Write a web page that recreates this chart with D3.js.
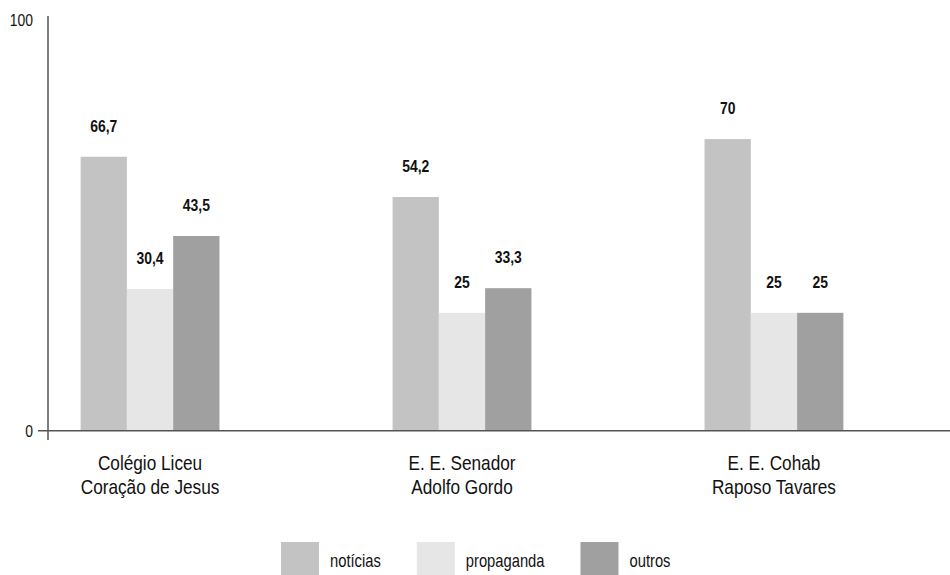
<!DOCTYPE html>
<html>
<head>
<meta charset="utf-8">
<script src="https://cdn.jsdelivr.net/npm/d3@7"></script>
<style>
  body { margin: 0; background: #fff; }
  text { font-family: "Liberation Sans", Arial, sans-serif; fill: #111; }
</style>
</head>
<body>
<div id="chart"></div>
<script>
var w = 950;
var h = 575;

// escolas (duas linhas cada)
var schools = [
    ["Colégio Liceu", "Coração de Jesus"],
    ["E. E. Senador", "Adolfo Gordo"],
    ["E. E. Cohab", "Raposo Tavares"]
];
var series = ["notícias", "propaganda", "outros"];
var colors = ["#c3c3c3", "#e6e6e6", "#a0a0a0"];

// rótulos impressos acima das barras
var noticiasLabels = ["66,7", "54,2", "70"];
var propagandaLabels = ["30,4", "25", "25"];
var outrosLabels = ["43,5", "33,3", "25"];

// altura das barras lida no eixo 0-100 da figura
var noticias = [66.7, 56.9, 71.0];
var propaganda = [34.5, 28.7, 28.7];
var outros = [47.4, 34.7, 28.7];

var yTicks = [0, 100];

var values = [noticias, propaganda, outros];
var labels = [noticiasLabels, propagandaLabels, outrosLabels];

// fonte estreita: não há Arial Narrow, então comprime na horizontal
var narrow = 0.82;
function squeeze(x, y) {
    return "translate(" + x + "," + y + ") scale(" + narrow + ",1)";
}

var svg = d3.select("#chart")
    .append("svg")
    .attr("width", w)
    .attr("height", h);

var x0 = d3.scaleBand()
    .domain(d3.range(schools.length))
    .range([51, 873])
    .paddingInner(0.555)
    .paddingOuter(0.095);

var x1 = d3.scaleBand()
    .domain(d3.range(series.length))
    .range([0, x0.bandwidth()]);

var y = d3.scaleLinear()
    .domain([0, 100])
    .range([430.7, 20]);

function cells(d, i) {
    return series.map(function (s, k) { return { k: k, v: values[k][i], label: labels[k][i] }; });
}

// barras
var groups = svg.selectAll("g.group")
    .data(schools)
    .enter()
    .append("g")
    .attr("class", "group")
    .attr("transform", function (d, i) {
        return "translate(" + x0(i) + ",0)";
    });

groups.selectAll("rect")
    .data(cells)
    .enter()
    .append("rect")
    .attr("x", function (d) { return x1(d.k); })
    .attr("y", function (d) { return y(d.v); })
    .attr("width", x1.bandwidth())
    .attr("height", function (d) { return y(0) - y(d.v); })
    .attr("fill", function (d) { return colors[d.k]; });

groups.selectAll("text.val")
    .data(cells)
    .enter()
    .append("text")
    .attr("class", "val")
    .attr("transform", function (d) {
        return squeeze(x1(d.k) + x1.bandwidth() / 2, y(d.v) - 25);
    })
    .attr("text-anchor", "middle")
    .attr("font-size", "17px")
    .attr("font-weight", "bold")
    .text(function (d) { return d.label; });

// nomes das escolas
groups.append("text")
    .attr("transform", squeeze(x0.bandwidth() / 2, 470))
    .attr("text-anchor", "middle")
    .attr("font-size", "21px")
    .selectAll("tspan")
    .data(function (d) { return d; })
    .enter()
    .append("tspan")
    .attr("x", 0)
    .attr("dy", function (d, i) { return i ? 24 : 0; })
    .text(function (d) { return d; });

// eixos
var yAxis = d3.axisLeft(y)
    .tickValues(yTicks)
    .tickSize(0)
    .tickPadding(15)
    .tickFormat(d3.format("d"));

var ya = svg.append("g")
    .attr("transform", "translate(48,0)")
    .call(yAxis);
ya.select(".domain").remove();
ya.selectAll(".tick text")
    .attr("font-size", "17px")
    .attr("font-family", null)
    .attr("fill", "#111")
    .attr("x", -15 / narrow)
    .attr("transform", "scale(" + narrow + ",1)");

svg.append("line")
    .attr("x1", 48).attr("x2", 48)
    .attr("y1", 16).attr("y2", 440)
    .attr("stroke", "#555").attr("stroke-width", 1.5);

svg.append("line")
    .attr("x1", 38).attr("x2", w)
    .attr("y1", y(0)).attr("y2", y(0))
    .attr("stroke", "#555").attr("stroke-width", 1.5);

// legenda
var lx = 281;
series.forEach(function (s, k) {
    svg.append("rect")
        .attr("x", lx).attr("y", 542)
        .attr("width", 38).attr("height", 36)
        .attr("fill", colors[k]);
    var t = svg.append("text")
        .attr("transform", squeeze(lx + 49, 567))
        .attr("font-size", "18px")
        .text(s);
    lx = lx + 49 + t.node().getComputedTextLength() * narrow + 36;
});
</script>
</body>
</html>
